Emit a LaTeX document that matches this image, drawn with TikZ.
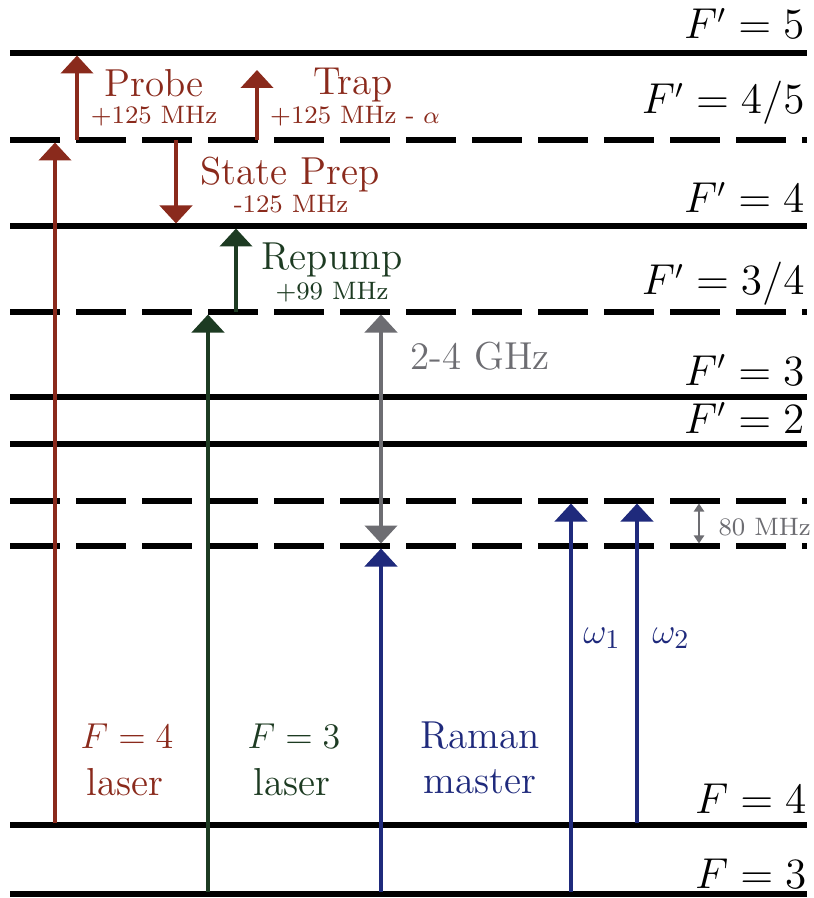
\documentclass[tikz,border=0pt]{standalone}
\usetikzlibrary{arrows.meta, positioning, calc}
\definecolor{LaserRed}{HTML}{8A2A1C}
\definecolor{LaserGreen}{HTML}{1D3B22}
\definecolor{RamanBlue}{HTML}{1F2A7C}
\definecolor{ShiftGray}{HTML}{6D6D72}

\begin{document}
\begin{tikzpicture}[x=0.3333pt, y=-0.3333pt,
    level/.style={line width=1.7pt},
    virtual/.style={line width=1.7pt, dash pattern=on 16.67pt off 5.33pt},
    levellabel/.style={anchor=base east, inner sep=0pt, font=\fontsize{13.5}{16}\selectfont},
    beam/.style={line width=1.3pt, draw=#1, -{Triangle[length=6pt, width=10.7pt]}},
    splitting/.style={line width=1.3pt, draw=ShiftGray, {Triangle[length=6pt, width=10.7pt]}-{Triangle[length=6pt, width=10.7pt]}},
    bigtext/.style={anchor=base, inner sep=0pt, text=#1, font=\fontsize{13}{15}\selectfont},
    smalltext/.style={anchor=base, inner sep=0pt, text=#1, font=\fontsize{8.4}{10}\selectfont}]
  \useasboundingbox (0,0) rectangle (813,898);

  % energy levels
  \draw[level]   (10,53)  -- (807,53)  coordinate (Fp5);
  \draw[virtual] (10,140) -- (807,140) coordinate (Fp45);
  \draw[level]   (10,226) -- (807,226) coordinate (Fp4);
  \draw[virtual] (10,312) -- (807,312) coordinate (Fp34);
  \draw[level]   (10,397) -- (807,397) coordinate (Fp3);
  \draw[level]   (10,444) -- (807,444) coordinate (Fp2);
  \draw[virtual] (10,501) -- (807,501) coordinate (RamUp);
  \draw[virtual] (10,546) -- (807,546) coordinate (RamLo);
  \draw[level]   (10,825) -- (807,825) coordinate (F4);
  \draw[level]   (10,894) -- (807,894) coordinate (F3);

  \node[levellabel] (lFp5)  at (805,39)  {$F' = 5$};
  \node[levellabel] (lFp45) at (805,114) {$F' = 4/5$};
  \node[levellabel] (lFp4)  at (805,213) {$F' = 4$};
  \node[levellabel] (lFp34) at (805,295) {$F' = 3/4$};
  \node[levellabel] (lFp3)  at (805,385) {$F' = 3$};
  \node[levellabel] (lFp2)  at (805,433) {$F' = 2$};
  \node[levellabel] (lF4)   at (807,813) {$F = 4$};
  \node[levellabel] (lF3)   at (807,888) {$F = 3$};

  % beam end points
  \coordinate (redLo)    at (55,823);
  \coordinate (redHi)    at (55,142.5);
  \coordinate (probeLo)  at (77,140);
  \coordinate (probeHi)  at (77,55.5);
  \coordinate (trapLo)   at (257,140);
  \coordinate (trapHi)   at (257,70);
  \coordinate (prepHi)   at (176,140);
  \coordinate (prepLo)   at (176,223.5);
  \coordinate (greenLo)  at (208,891.5);
  \coordinate (greenHi)  at (208,314.5);
  \coordinate (repLo)    at (236,312);
  \coordinate (repHi)    at (236,228.5);
  \coordinate (ghzHi)    at (381,314.5);
  \coordinate (ghzLo)    at (381,543.5);
  \coordinate (ramanLo)  at (381,891.5);
  \coordinate (ramanHi)  at (381,548.5);
  \coordinate (omOneLo)  at (571,891.5);
  \coordinate (omOneHi)  at (571,503.5);
  \coordinate (omTwoLo)  at (637,822.5);
  \coordinate (omTwoHi)  at (637,503.5);
  \coordinate (mhzHi)    at (699,503.5);
  \coordinate (mhzLo)    at (699,543.5);

  % F=4 laser and its offsets
  \draw[beam=LaserRed] (redLo) -- (redHi);
  \draw[beam=LaserRed] (probeLo) -- (probeHi);
  \draw[beam=LaserRed] (trapLo) -- (trapHi);
  \draw[beam=LaserRed] (prepHi) -- (prepLo);

  % F=3 laser and repump
  \draw[beam=LaserGreen] (greenLo) -- (greenHi);
  \draw[beam=LaserGreen] (repLo) -- (repHi);

  % Raman beams
  \draw[beam=RamanBlue] (ramanLo) -- (ramanHi);
  \draw[beam=RamanBlue] (omOneLo) -- (omOneHi);
  \draw[beam=RamanBlue] (omTwoLo) -- (omTwoHi);
  \draw[splitting] (ghzHi) -- (ghzLo);
  \draw[line width=0.7pt, draw=ShiftGray, {Triangle[length=2.7pt, width=3.4pt]}-{Triangle[length=2.7pt, width=3.4pt]}] (mhzHi) -- (mhzLo);

  % labels
  \node[bigtext=LaserRed] (probe) at (154,97) {Probe};
  \node[smalltext=LaserRed] (probeDet) at (154,124) {+125 MHz};
  \node[bigtext=LaserRed] (trap) at (353,95) {Trap};
  \node[smalltext=LaserRed] (trapDet) at (355,124) {+125 MHz - $\alpha$};
  \node[bigtext=LaserRed] (prep) at (290,185) {State Prep};
  \node[smalltext=LaserRed] (prepDet) at (291,213) {-125 MHz};
  \node[bigtext=LaserGreen] (repump) at (332,270) {Repump};
  \node[smalltext=LaserGreen] (repDet) at (332,300) {+99 MHz};
  \node[bigtext=ShiftGray] (ghz) at (480,370) {2-4 GHz};
  \node[smalltext=ShiftGray, anchor=base west] (mhz) at (718,535) {80 MHz};

  \node[bigtext=LaserRed] (redName) at (127,748) {$F = 4$};
  \node[bigtext=LaserRed] (redKind) at (125,795) {laser};
  \node[bigtext=LaserGreen] (greenName) at (294,748) {$F = 3$};
  \node[bigtext=LaserGreen] (greenKind) at (292,795) {laser};
  \node[bigtext=RamanBlue] (ramanName) at (480,748) {Raman};
  \node[bigtext=RamanBlue] (ramanKind) at (480,793) {master};
  \node[bigtext=RamanBlue] (omOne) at (602,643) {$\omega_1$};
  \node[bigtext=RamanBlue] (omTwo) at (671,643) {$\omega_2$};
\end{tikzpicture}
\end{document}
